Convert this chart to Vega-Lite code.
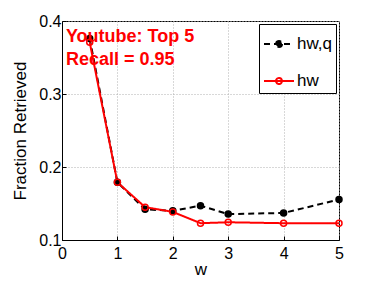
{
  "$schema": "https://vega.github.io/schema/vega-lite/v6.json",
  "autosize": "none",
  "padding": {"left": 62, "top": 21, "right": 35, "bottom": 41},
  "width": 277,
  "height": 219,
  "background": "white",
  "config": {
    "font": "Liberation Sans",
    "view": {"stroke": "black", "strokeWidth": 1},
    "axis": {
      "labelFont": "Liberation Sans", "titleFont": "Liberation Sans",
      "labelFontSize": 16, "titleFontSize": 17, "titleFontWeight": "normal",
      "labelColor": "black", "titleColor": "black",
      "domainColor": "black", "tickColor": "black",
      "gridColor": "#b0b0b0", "gridDash": [1, 2], "gridOpacity": 1, "gridWidth": 1,
      "tickSize": -4
    }
  },
  "data": {"values": [
    {"series": "hw,q", "w": 0.5, "f": 0.376},
    {"series": "hw,q", "w": 1, "f": 0.179},
    {"series": "hw,q", "w": 1.5, "f": 0.142},
    {"series": "hw,q", "w": 2, "f": 0.140},
    {"series": "hw,q", "w": 2.5, "f": 0.147},
    {"series": "hw,q", "w": 3, "f": 0.1355},
    {"series": "hw,q", "w": 4, "f": 0.137},
    {"series": "hw,q", "w": 5, "f": 0.1555},
    {"series": "hw", "w": 0.5, "f": 0.371},
    {"series": "hw", "w": 1, "f": 0.179},
    {"series": "hw", "w": 1.5, "f": 0.145},
    {"series": "hw", "w": 2, "f": 0.1385},
    {"series": "hw", "w": 2.5, "f": 0.123},
    {"series": "hw", "w": 3, "f": 0.1243},
    {"series": "hw", "w": 4, "f": 0.123},
    {"series": "hw", "w": 5, "f": 0.123}
  ]},
  "layer": [
    {
      "mark": {"type": "line", "strokeWidth": 2},
      "encoding": {
        "x": {"field": "w", "type": "quantitative",
          "scale": {"domain": [0, 5], "nice": false},
          "axis": {"title": "w", "values": [0, 0.5, 1, 1.5, 2, 2.5, 3, 3.5, 4, 4.5, 5],
            "labelExpr": "datum.value % 1 == 0 ? format(datum.value, 'd') : ''",
            "labelPadding": 9, "titlePadding": 0, "labelFlush": false}},
        "y": {"field": "f", "type": "quantitative",
          "scale": {"domain": [0.1, 0.4], "nice": false, "zero": false},
          "axis": {"title": "Fraction Retrieved", "values": [0.1, 0.2, 0.3, 0.4],
            "format": ".1f", "labelPadding": 5, "titlePadding": 9}},
        "color": {"field": "series", "type": "nominal",
          "scale": {"domain": ["hw,q", "hw"], "range": ["black", "red"]},
          "legend": {"title": null, "orient": "top-right", "offset": 3,
            "strokeColor": "black", "fillColor": "white", "padding": 4,
            "labelFontSize": 17, "labelColor": "black", "labelFont": "Liberation Sans",
            "symbolType": "M-1,0L1,0M0.2,0A0.2,0.2 0 1,1 -0.2,0A0.2,0.2 0 1,1 0.2,0",
            "symbolStrokeWidth": 2, "symbolSize": 900, "rowPadding": 13, "labelOffset": 2}},
        "strokeDash": {"field": "series", "type": "nominal",
          "scale": {"domain": ["hw,q", "hw"], "range": [[6, 4], [1, 0]]},
          "legend": {"title": null}}
      }
    },
    {
      "mark": {"type": "point", "strokeWidth": 1.5, "opacity": 1, "size": 36},
      "encoding": {
        "x": {"field": "w", "type": "quantitative"},
        "y": {"field": "f", "type": "quantitative"},
        "color": {"field": "series", "type": "nominal"},
        "fill": {"field": "series", "type": "nominal",
          "scale": {"domain": ["hw,q", "hw"], "range": ["black", "transparent"]},
          "legend": {"title": null}}
      }
    },
    {
      "data": {"values": [
        {"label": "Youtube: Top 5", "tx": 0.07, "ty": 0.3716},
        {"label": "Recall = 0.95", "tx": 0.07, "ty": 0.3397}
      ]},
      "mark": {"type": "text", "align": "left", "baseline": "alphabetic",
        "fontSize": 18, "fontWeight": "bold", "color": "red", "font": "Liberation Sans"},
      "encoding": {
        "x": {"field": "tx", "type": "quantitative"},
        "y": {"field": "ty", "type": "quantitative"},
        "text": {"field": "label"}
      }
    }
  ]
}
